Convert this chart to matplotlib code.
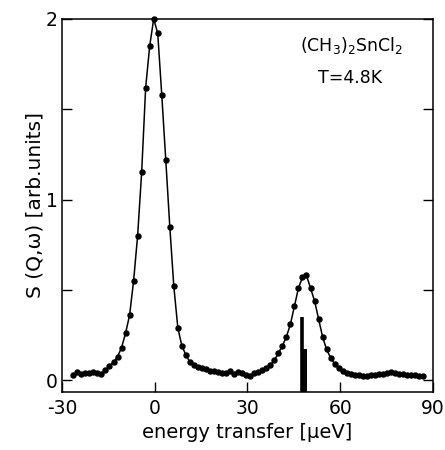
import matplotlib
matplotlib.use("Agg")
import matplotlib.pyplot as plt

# energy transfer [ueV] of the measured points
energy = [-26.3, -25.0, -23.7, -22.4, -21.1, -19.8, -18.5, -17.2, -15.9, -14.6,
          -13.3, -12.0, -10.7, -9.4, -8.1, -6.8, -5.5, -4.2, -2.9, -1.6,
          -0.3, 1.0, 2.3, 3.6, 4.9, 6.2, 7.5, 8.8, 10.1, 11.4,
          12.7, 14.0, 15.3, 16.6, 17.9, 19.2, 20.5, 21.8, 23.1, 24.4,
          25.7, 27.0, 28.3, 29.6, 30.9, 32.2, 33.5, 34.8, 36.1, 37.4,
          38.7, 40.0, 41.3, 42.6, 43.9, 45.2, 46.5, 47.8, 49.1, 50.4,
          51.7, 53.0, 54.3, 55.6, 56.9, 58.2, 59.5, 60.8, 62.1, 63.4,
          64.7, 66.0, 67.3, 68.6, 69.9, 71.2, 72.5, 73.8, 75.1, 76.4,
          77.7, 79.0, 80.3, 81.6, 82.9, 84.2, 85.5, 86.8]
# S(Q,w) in arb. units
intensity = [0.030, 0.045, 0.035, 0.040, 0.040, 0.045, 0.040, 0.035, 0.057, 0.078,
             0.100, 0.130, 0.180, 0.260, 0.360, 0.550, 0.800, 1.150, 1.620, 1.850,
             2.000, 1.920, 1.580, 1.220, 0.850, 0.520, 0.290, 0.190, 0.140, 0.100,
             0.085, 0.075, 0.068, 0.062, 0.052, 0.050, 0.045, 0.040, 0.042, 0.050,
             0.035, 0.048, 0.038, 0.028, 0.022, 0.040, 0.045, 0.055, 0.070, 0.085,
             0.110, 0.150, 0.190, 0.240, 0.310, 0.410, 0.510, 0.570, 0.580, 0.510,
             0.440, 0.340, 0.240, 0.170, 0.125, 0.090, 0.065, 0.050, 0.040, 0.032,
             0.030, 0.028, 0.022, 0.025, 0.030, 0.028, 0.032, 0.035, 0.040, 0.045,
             0.038, 0.035, 0.032, 0.030, 0.030, 0.028, 0.025, 0.022]

# calculated tunnelling lines (stick spectrum)
stick_pos = [47.6, 48.4, 49.0]
stick_height = [0.35, 0.17, 0.17]
stick_width = [2.6, 1.4, 1.4]

fig = plt.figure(figsize=(4.45, 4.5), dpi=100)
ax = fig.add_axes([0.139, 0.129, 0.834, 0.829])

ax.plot(energy, intensity, "-", color="black", lw=1.1, clip_on=False)
ax.plot(energy, intensity, "o", color="black", ms=3.6, clip_on=False)

ymin = -0.065
for p, h, w in zip(stick_pos, stick_height, stick_width):
    ax.vlines(p, ymin, h, color="black", lw=w)

ax.set_xlim(-30, 90)
ax.set_ylim(ymin, 2.0)
ax.set_xticks([-30, 0, 30, 60, 90])
ax.set_xticklabels(["-30", "0", "30", "60", "90"])
ax.set_yticks([0, 1, 2])
ax.set_yticks([0.5, 1.5], minor=True)
ax.tick_params(axis="x", which="both", direction="in", length=7, width=1,
               labelsize=13.5, pad=5)
ax.tick_params(axis="y", which="both", direction="in", length=7, width=1,
               labelsize=13.5, right=True, pad=3)
for s in ax.spines.values():
    s.set_linewidth(1.1)

ax.set_xlabel("energy transfer [\u00b5eV]", fontsize=14, labelpad=4)
ax.set_ylabel("S (Q,\u03c9) [arb.units]", fontsize=14.5, labelpad=1)

ax.text(0.642, 0.93, "(CH$_3$)$_2$SnCl$_2$", transform=ax.transAxes,
        fontsize=12.5, ha="left", va="center")
ax.text(0.69, 0.842, "T=4.8K", transform=ax.transAxes,
        fontsize=12.5, ha="left", va="center")

fig.savefig("out.png", dpi=100)
